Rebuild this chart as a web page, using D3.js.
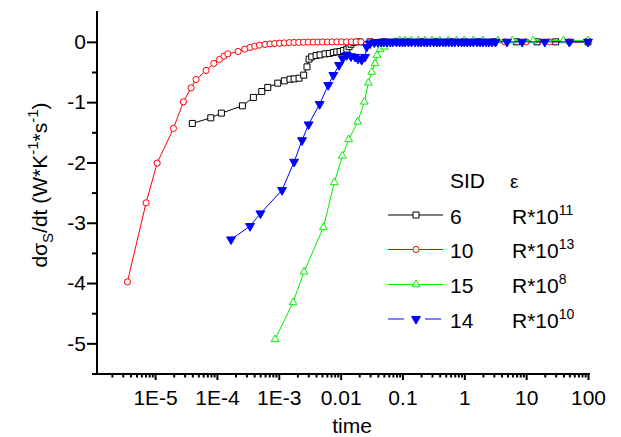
<!DOCTYPE html>
<html>
<head>
<meta charset="utf-8">
<title>d sigma / dt vs time</title>
<script src="https://d3js.org/d3.v7.min.js"></script>
<style>
body { margin: 0; background: #fff; }
text { font-family: "Liberation Sans", Arial, sans-serif; fill: #000; }
.axis path, .axis line { stroke: #000; stroke-width: 2px; }
</style>
</head>
<body>
<script>

// SID 6  (black, open squares)
var t6 = [4.0e-5, 7.95e-5, 1.18e-4, 2.58e-4, 3.88e-4, 5.31e-4, 6.64e-4, 9.63e-4, 1.23e-3, 1.52e-3,
          1.77e-3, 2.13e-3, 2.53e-3, 2.86e-3, 3.09e-3, 3.41e-3, 4.01e-3, 4.65e-3, 5.6e-3, 6.57e-3,
          7.63e-3, 8.65e-3, 9.8e-3, 0.0111, 0.0126, 0.0137, 0.0147, 0.0161, 0.02, 0.03,
          0.05, 0.08, 0.13, 0.2, 0.35, 0.6, 1, 1.7, 3, 7, 15, 30, 100];
var v6 = [-1.353, -1.26, -1.182, -1.061, -0.922, -0.823, -0.756, -0.685, -0.647, -0.619,
          -0.614, -0.602, -0.552, -0.415, -0.287, -0.249, -0.226, -0.216, -0.199, -0.192,
          -0.176, -0.166, -0.16, -0.145, -0.12, -0.08, -0.04, -0.01, 0, 0,
          0, 0, 0, 0, 0, 0, 0, 0, 0, 0, 0, 0, 0];

// SID 10 (red, open circles)
var t10 = [3.57e-6, 7.15e-6, 1.08e-5, 1.98e-5, 2.87e-5, 3.82e-5, 4.6e-5, 6.67e-5, 8.9e-5, 1.1e-4,
           1.3e-4, 1.5e-4, 2.2e-4, 2.82e-4, 3.43e-4, 4.09e-4, 4.86e-4, 6.0e-4, 7.2e-4, 8.6e-4,
           1.03e-3, 1.23e-3, 1.47e-3, 1.76e-3, 2.1e-3, 2.5e-3, 3.0e-3, 3.6e-3, 4.3e-3, 5.1e-3,
           6.1e-3, 7.3e-3, 8.7e-3, 0.0104, 0.0125, 0.0149, 0.0178, 0.0213, 0.03, 0.05,
           0.1, 0.2, 0.5, 1, 2, 4.5, 10, 24, 50, 100];
var v10 = [-3.98, -2.67, -2.01, -1.436, -0.995, -0.763, -0.624, -0.474, -0.358, -0.292,
           -0.237, -0.199, -0.159, -0.121, -0.093, -0.071, -0.055, -0.043, -0.035, -0.028,
           -0.022, -0.017, -0.013, -0.01, -0.008, -0.006, -0.005, -0.004, -0.003, -0.002,
           -0.002, -0.001, 0, 0, 0, 0, 0, 0, 0, 0,
           0, 0, 0, 0, 0, 0, 0, 0, 0, 0];

// SID 15 (green, open triangles)
var t15 = [8.7e-4, 1.7e-3, 2.56e-3, 5.26e-3, 7.92e-3, 0.01067, 0.01353, 0.01891, 0.02418, 0.02805,
           0.03185, 0.036, 0.0388, 0.0434, 0.0509, 0.06, 0.075, 0.09, 0.11, 0.14,
           0.18, 0.23, 0.3, 0.4, 0.55, 0.75, 1, 1.4, 2, 3.5,
           6, 13, 40, 100];
var v15 = [-4.935, -4.322, -3.814, -3.078, -2.332, -1.891, -1.619, -1.327, -0.995, -0.68,
           -0.5, -0.358, -0.22, -0.126, -0.083, -0.03, 0, 0.02, 0.02, 0.02,
           0.02, 0.02, 0.02, 0.02, 0.02, 0.02, 0.02, 0.02, 0.02, 0.02,
           0.02, 0.02, 0.02, 0.02];

// SID 14 (blue, filled down triangles)
var t14 = [1.69e-4, 3.43e-4, 5.04e-4, 1.13e-3, 1.77e-3, 2.38e-3, 3.03e-3, 4.58e-3, 6.3e-3, 7.62e-3,
           9.42e-3, 0.0108, 0.01255, 0.0147, 0.0171, 0.0191, 0.0219, 0.0248, 0.0264, 0.0299,
           0.035, 0.04, 0.045, 0.05, 0.056, 0.063, 0.07, 0.08, 0.09, 0.1,
           0.11, 0.125, 0.14, 0.16, 0.18, 0.2, 0.225, 0.25, 0.28, 0.32,
           0.36, 0.4, 0.45, 0.5, 0.56, 0.63, 0.7, 0.8, 0.9, 1,
           1.12, 1.25, 1.4, 1.6, 1.8, 2, 2.25, 2.5, 2.8, 3.2,
           4.9, 8.6, 20, 50, 100];
var v14 = [-3.277, -3.056, -2.846, -2.459, -1.99, -1.632, -1.37, -1.033, -0.718, -0.552,
           -0.386, -0.275, -0.221, -0.24, -0.25, -0.28, -0.30, -0.25, -0.083, -0.027,
           -0.01, -0.005, 0, 0, 0, 0, 0, 0, 0, 0,
           0, 0, 0, 0, 0, 0, 0, 0, 0, 0,
           0, 0, 0, 0, 0, 0, 0, 0, 0, 0,
           0, 0, 0, 0, 0, 0, 0, 0, 0, 0,
           0, 0, 0, 0, 0];

var sids = ["6", "10", "15", "14"];
var epsBase = ["R*10", "R*10", "R*10", "R*10"];
var epsExp = ["11", "13", "8", "10"];

var xTicks = [1e-5, 1e-4, 1e-3, 0.01, 0.1, 1, 10, 100];
var xTickLabels = ["1E-5", "1E-4", "1E-3", "0.01", "0.1", "1", "10", "100"];
var yTicks = [-5, -4, -3, -2, -1, 0];
var yTickLabels = ["-5", "-4", "-3", "-2", "-1", "0"];

var width = 621, height = 437;

var svg = d3.select("body").append("svg")
    .attr("width", width)
    .attr("height", height);

var x = d3.scaleLog().domain([1.15e-6, 100]).range([97, 588]);
var y = d3.scaleLinear().domain([-5.5, 0.5]).range([373.5, 11.7]);

// minor ticks
var xMinor = [];
[1e-6, 1e-5, 1e-4, 1e-3, 0.01, 0.1, 1, 10].forEach(function(d) {
  for (var k = 2; k <= 9; k++) {
    var v = d * k;
    if (v >= 1.15e-6 && v <= 100) xMinor.push(v);
  }
});
var yMinor = [-5.5, -4.5, -3.5, -2.5, -1.5, -0.5];

svg.append("g").attr("class", "axis")
  .attr("transform", "translate(0,374)")
  .call(d3.axisBottom(x).tickValues(xMinor).tickSize(3.5).tickSizeOuter(0).tickFormat(""))
  .select(".domain").remove();

var xAxis = svg.append("g").attr("class", "axis")
  .attr("transform", "translate(0,374)")
  .call(d3.axisBottom(x).tickValues(xTicks).tickSize(6).tickSizeOuter(0).tickPadding(10)
        .tickFormat(function(d, i) { return xTickLabels[i]; }));
xAxis.select(".domain").attr("d", "M96,0H590");
xAxis.selectAll("text").style("font-size", "21px").style("font-family", "'Liberation Sans', Arial, sans-serif");

svg.append("g").attr("class", "axis")
  .attr("transform", "translate(97,0)")
  .call(d3.axisLeft(y).tickValues(yMinor).tickSize(5).tickSizeOuter(0).tickFormat(""))
  .select(".domain").remove();

var yAxis = svg.append("g").attr("class", "axis")
  .attr("transform", "translate(97,0)")
  .call(d3.axisLeft(y).tickValues(yTicks).tickSize(10).tickSizeOuter(0).tickPadding(1)
        .tickFormat(function(d, i) { return yTickLabels[i]; }));
yAxis.select(".domain").attr("d", "M0,11H0V375");
yAxis.selectAll("text").style("font-size", "21px").style("font-family", "'Liberation Sans', Arial, sans-serif");

// axis titles
svg.append("text")
  .attr("x", 352).attr("y", 433)
  .attr("text-anchor", "middle")
  .style("font-size", "21px")
  .text("time");

var yl = svg.append("text")
  .attr("transform", "translate(47,185) rotate(-90)")
  .attr("text-anchor", "middle")
  .style("font-size", "21px");
yl.append("tspan").text("dσ");
yl.append("tspan").attr("dy", 6).style("font-size", "15px").text("S");
yl.append("tspan").attr("dy", -6).text("/dt (W*K");
yl.append("tspan").attr("dy", -9).style("font-size", "15px").text("-1");
yl.append("tspan").attr("dy", 9).text("*s");
yl.append("tspan").attr("dy", -9).style("font-size", "15px").text("-1");
yl.append("tspan").attr("dy", 9).text(")");

// series
var series = [
  {t: t6,  v: v6,  color: "#000000", sym: d3.symbolSquare,   size: 36, fill: "#fff", rot: 0},
  {t: t10, v: v10, color: "#ff0000", sym: d3.symbolCircle,   size: 30, fill: "#fff", rot: 0},
  {t: t15, v: v15, color: "#00ee00", sym: d3.symbolTriangle, size: 26, fill: "#fff", rot: 0},
  {t: t14, v: v14, color: "#0000ff", sym: d3.symbolTriangle, size: 34, fill: "#0000ff", rot: 180}
];

var line = d3.line()
  .x(function(d) { return x(d[0]); })
  .y(function(d) { return y(d[1]); });

series.forEach(function(s) {
  var pts = s.t.map(function(t, i) { return [t, s.v[i]]; });
  svg.append("path")
    .datum(pts)
    .attr("fill", "none")
    .attr("stroke", s.color)
    .attr("stroke-width", 1)
    .attr("d", line);
  svg.append("g").selectAll("path")
    .data(pts)
    .enter().append("path")
    .attr("d", d3.symbol().type(s.sym).size(s.size))
    .attr("transform", function(d) {
      return "translate(" + x(d[0]) + "," + y(d[1]) + ") rotate(" + s.rot + ")";
    })
    .attr("fill", s.fill)
    .attr("stroke", s.color)
    .attr("stroke-width", 1);
});

// legend
svg.append("text").attr("x", 450).attr("y", 188).style("font-size", "21px").text("SID");
svg.append("text").attr("x", 510).attr("y", 188).style("font-size", "19px").text("ε");

var rowY = [215, 249.5, 284.5, 319];
series.forEach(function(s, i) {
  var ly = rowY[i];
  svg.append("line")
    .attr("x1", 388).attr("x2", 443)
    .attr("y1", ly).attr("y2", ly)
    .attr("stroke", s.color)
    .attr("stroke-width", 1)
    .attr("stroke-dasharray", i === 3 ? "16,21" : null);
  svg.append("path")
    .attr("d", d3.symbol().type(s.sym).size(s.size))
    .attr("transform", "translate(416," + ly + ") rotate(" + s.rot + ")")
    .attr("fill", s.fill)
    .attr("stroke", s.color)
    .attr("stroke-width", 1);
  svg.append("text")
    .attr("x", 450).attr("y", ly + 8.5)
    .style("font-size", "21px")
    .text(sids[i]);
  var e = svg.append("text")
    .attr("x", 512).attr("y", ly + 8.5)
    .style("font-size", "21px");
  e.append("tspan").text(epsBase[i]);
  e.append("tspan").attr("dy", -9).style("font-size", "14px").text(epsExp[i]);
});

</script>
</body>
</html>
